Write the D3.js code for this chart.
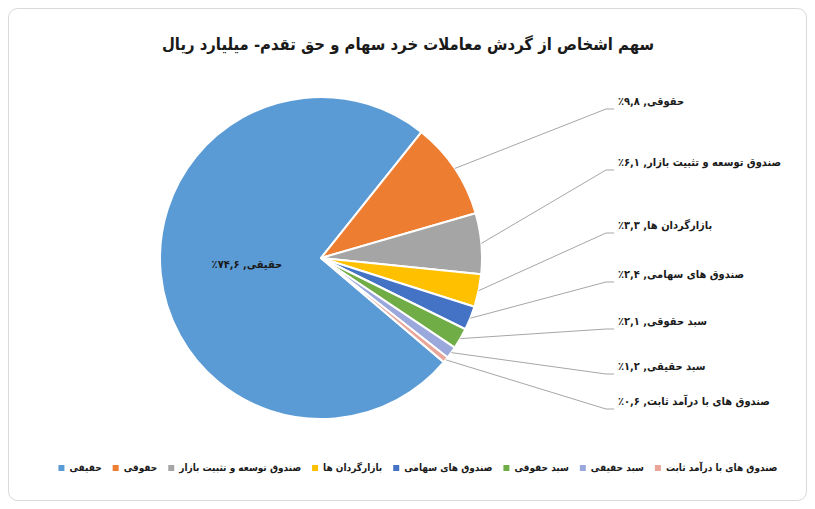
<!DOCTYPE html>
<html>
<head>
<meta charset="utf-8">
<script src="https://cdn.jsdelivr.net/npm/d3@7"></script>
<style>
  html, body { margin: 0; padding: 0; background: #fff; }
  svg { display: block; }
  text { font-family: "DejaVu Sans Condensed", "DejaVu Sans", sans-serif; font-weight: bold; fill: #1a1a1a; }
</style>
</head>
<body>
<svg id="chart" width="815" height="509"></svg>
<script>
// ---- data ----
const title = "سهم اشخاص از گردش معاملات خرد سهام و حق تقدم- میلیارد ریال";
const categories = ["حقیقی", "حقوقی", "صندوق توسعه و تثبیت بازار", "بازارگردان ها", "صندوق های سهامی", "سبد حقوقی", "سبد حقیقی", "صندوق های با درآمد ثابت"];
const labelNames = ["حقیقی", "حقوقی", "صندوق توسعه و تثبیت بازار", "بازارگردان ها", "صندوق های سهامی", "سبد حقوقی", "سبد حقیقی", "صندوق های با درآمد ثابت"];
const values = [74.6, 9.8, 6.1, 3.3, 2.4, 2.1, 1.2, 0.6];
const valueLabels = ["۷۴,۶٪", "۹,۸٪", "۶,۱٪", "۳,۳٪", "۲,۴٪", "۲,۱٪", "۱,۲٪", "۰,۶٪"];

// ---- style / layout ----
const colors = ["#5B9BD5", "#ED7D31", "#A5A5A5", "#FFC000", "#4472C4", "#70AD47", "#9AA8DC", "#E8A598"];
const W = 815, H = 509;
const cx = 321, cy = 258, R = 161;
const firstSliceDeg = 130.3;
const labelColX = 618;                       // left edge of outside labels
const outsideLabelY = [102, 163, 226, 275, 322, 367, 402]; // label rows (layout)

const svg = d3.select("#chart");

svg.append("rect")
  .attr("x", 8.5).attr("y", 8.5).attr("width", W - 17).attr("height", H - 17)
  .attr("rx", 9).attr("fill", "#fff").attr("stroke", "#d9d9d9").attr("stroke-width", 1);

svg.append("text")
  .attr("x", 408).attr("y", 45)
  .attr("text-anchor", "middle").attr("dominant-baseline", "middle")
  .attr("direction", "rtl")
  .style("font-size", "16.5px")
  .text(title);

const data = values.map((v, i) => ({ name: categories[i], label: labelNames[i], value: v, vl: valueLabels[i], color: colors[i] }));

const rot = firstSliceDeg * Math.PI / 180;
const pie = d3.pie().sort(null).value(d => d.value).startAngle(rot).endAngle(rot + 2 * Math.PI);
const arcs = pie(data);
const arc = d3.arc().innerRadius(0).outerRadius(R);

const g = svg.append("g").attr("transform", `translate(${cx},${cy})`);
g.selectAll("path.slice").data(arcs).enter().append("path")
  .attr("class", "slice")
  .attr("d", arc)
  .attr("fill", d => d.data.color)
  .attr("stroke", "#fff").attr("stroke-width", 2).attr("stroke-linejoin", "round");

// inside label for the biggest slice
const big = arcs[0];
const bigC = d3.arc().innerRadius(0).outerRadius(R * 0.95).centroid(big);
svg.append("text")
  .attr("x", cx + bigC[0] + 2).attr("y", cy + bigC[1])
  .attr("text-anchor", "middle").attr("dominant-baseline", "middle")
  .attr("direction", "rtl")
  .style("font-size", "11px")
  .text(big.data.label + ", " + big.data.vl);

// outside labels with leader lines
const outer = arcs.slice(1);
const lines = svg.append("g");
outer.forEach((d, i) => {
  const mid = (d.startAngle + d.endAngle) / 2;
  const sx = cx + R * Math.sin(mid), sy = cy - R * Math.cos(mid);
  const ly = outsideLabelY[i];
  const path = d3.path();
  path.moveTo(sx, sy);
  path.lineTo(labelColX - 12, ly + 7);
  path.lineTo(labelColX - 4, ly + 7);
  lines.append("path").attr("d", path.toString())
    .attr("fill", "none").attr("stroke", "#a6a6a6").attr("stroke-width", 1);
  svg.append("text")
    .attr("x", labelColX).attr("y", ly)
    .attr("text-anchor", "end").attr("direction", "rtl")
    .attr("dominant-baseline", "middle")
    .style("font-size", "11px")
    .text(d.data.label + ", " + d.data.vl);
});

// legend
const legY = 468, mk = 6, gapMk = 5, gapItem = 11;
const leg = svg.append("g");
const items = data.map(d => {
  const gi = leg.append("g");
  gi.append("rect").attr("width", mk).attr("height", mk).attr("y", legY - mk / 2).attr("fill", d.color);
  const t = gi.append("text").attr("y", legY).attr("dominant-baseline", "middle")
    .attr("direction", "rtl").attr("text-anchor", "start")
    .style("font-size", "10px").text(d.name);
  const w = t.node().getComputedTextLength();
  return { gi, t, w };
});
const total = d3.sum(items, it => mk + gapMk + it.w) + gapItem * (items.length - 1);
let x = 418 - total / 2;
items.forEach(it => {
  it.gi.select("rect").attr("x", x);
  it.t.attr("x", x + mk + gapMk + it.w);
  x += mk + gapMk + it.w + gapItem;
});
</script>
</body>
</html>
